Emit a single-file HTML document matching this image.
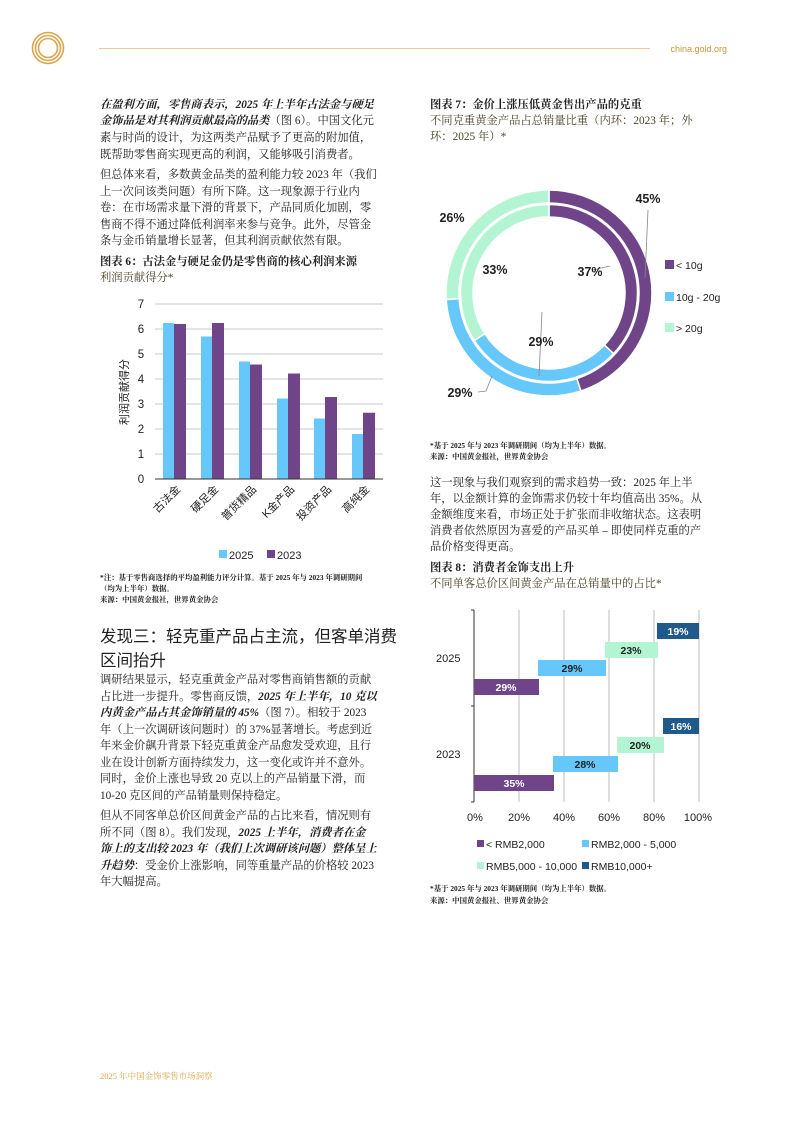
<!DOCTYPE html>
<html><head><meta charset="utf-8"><style>
body{margin:0;background:#fff}
#p{position:relative;width:794px;height:1123px;overflow:hidden;font-family:"Liberation Serif","Noto Serif CJK SC",serif;color:#222}
.l{position:absolute;white-space:nowrap;font-size:11.3px;line-height:16px}
.b{font-weight:bold}
.i{font-style:italic;font-weight:bold}
.g{color:#4a4328}
.h{font-family:"Liberation Sans","Noto Sans CJK SC",sans-serif;font-size:16.5px;line-height:22px}
.f{font-size:7.4px;line-height:10.5px}
svg text{font-family:"Liberation Sans","Noto Sans CJK SC",sans-serif}
</style></head><body><div id="p">
<svg width="794" height="1123" style="position:absolute;left:0;top:0">
<g fill="none" stroke="#dba64a" stroke-width="1.6"><circle cx="48" cy="48" r="15.5"/><circle cx="48" cy="48" r="12.5"/><circle cx="48" cy="48" r="9.5"/></g>
<line x1="99" y1="48.5" x2="650" y2="48.5" stroke="#ecca8e" stroke-width="1"/>
<text x="727" y="52" font-size="9" fill="#c9953a" text-anchor="end">china.gold.org</text>
<text x="100" y="1079" font-size="8.5" fill="#d9a54a" style="font-family:'Liberation Serif','Noto Serif CJK SC',serif">2025 年中国金饰零售市场洞察</text>

<g stroke="#c8c8c8" stroke-width="1">
<line x1="155" x2="383" y1="304" y2="304"/><line x1="155" x2="383" y1="329" y2="329"/><line x1="155" x2="383" y1="354" y2="354"/><line x1="155" x2="383" y1="379" y2="379"/><line x1="155" x2="383" y1="404" y2="404"/><line x1="155" x2="383" y1="429" y2="429"/><line x1="155" x2="383" y1="454" y2="454"/>
</g>
<g fill="#66c7fb">
<rect x="163" y="323" width="11" height="156"/><rect x="201" y="336.5" width="11" height="142.5"/><rect x="239" y="361.5" width="11" height="117.5"/><rect x="277" y="398.5" width="11" height="80.5"/><rect x="314" y="418.5" width="11" height="60.5"/><rect x="352" y="434" width="11" height="45"/>
</g>
<g fill="#6f4489">
<rect x="174" y="324" width="12" height="155"/><rect x="212" y="323" width="12" height="156"/><rect x="250" y="364.5" width="12" height="114.5"/><rect x="288" y="373.5" width="12" height="105.5"/><rect x="325" y="397" width="12" height="82"/><rect x="363" y="412.75" width="12" height="66.25"/>
</g>
<line x1="155" x2="383" y1="479" y2="479" stroke="#333" stroke-width="1"/>
<g font-size="11.5" fill="#222" text-anchor="middle">
<text x="141" y="308">7</text><text x="141" y="333">6</text><text x="141" y="358">5</text><text x="141" y="383">4</text><text x="141" y="408">3</text><text x="141" y="433">2</text><text x="141" y="458">1</text><text x="141" y="483">0</text>
</g>
<text transform="translate(128,392) rotate(-90)" font-size="11" text-anchor="middle" fill="#222">利润贡献得分</text>
<g font-size="11" fill="#222" text-anchor="end">
<text transform="translate(181,490) rotate(-45)">古法金</text>
<text transform="translate(219,490) rotate(-45)">硬足金</text>
<text transform="translate(257,490) rotate(-45)">普货精品</text>
<text transform="translate(295,490) rotate(-45)">K金产品</text>
<text transform="translate(332,490) rotate(-45)">投资产品</text>
<text transform="translate(370,490) rotate(-45)">高纯金</text>
</g>
<rect x="219" y="550" width="8" height="8" fill="#66c7fb"/><text x="229" y="559" font-size="11" fill="#222">2025</text>
<rect x="267" y="550" width="8" height="8" fill="#6f4489"/><text x="277" y="559" font-size="11" fill="#222">2023</text>

<g id="donut"></g>
<g stroke="#888" stroke-width="0.8" fill="none">
<polyline points="648,210 645,278"/>
<polyline points="610,266 601,268 593,270"/>
<polyline points="542,312 539,376"/>
<polyline points="492,376 486,391 478,392"/>
</g>
<g font-size="12.5" font-weight="bold" fill="#222" text-anchor="middle">
<text x="648" y="203">45%</text><text x="452" y="222">26%</text><text x="495" y="274">33%</text><text x="590" y="276">37%</text><text x="541" y="346">29%</text><text x="460" y="397">29%</text>
</g>
<rect x="665" y="260" width="9" height="9" fill="#6f4489"/><text x="676" y="269" font-size="10.5" fill="#222">&lt; 10g</text>
<rect x="665" y="292" width="9" height="9" fill="#66c7fb"/><text x="676" y="301" font-size="10.5" fill="#222">10g - 20g</text>
<rect x="665" y="323" width="9" height="9" fill="#b3f5d3"/><text x="676" y="332" font-size="10.5" fill="#222">&gt; 20g</text>

<g stroke="#bdbdbd" stroke-width="1">
<line x1="519" x2="519" y1="610" y2="802"/><line x1="564" x2="564" y1="610" y2="802"/><line x1="609" x2="609" y1="610" y2="802"/><line x1="654" x2="654" y1="610" y2="802"/><line x1="699" x2="699" y1="610" y2="802"/>
</g>
<g stroke="#333" stroke-width="1"><line x1="474" x2="474" y1="610" y2="802"/><line x1="471" x2="474" y1="610" y2="610"/><line x1="471" x2="474" y1="706" y2="706"/><line x1="471" x2="474" y1="802" y2="802"/></g>
<rect x="474" y="679" width="65" height="16" fill="#6f4489"/>
<rect x="538" y="660" width="68" height="16" fill="#66c7fb"/>
<rect x="605" y="642" width="53" height="16" fill="#b3f5d3"/>
<rect x="657" y="623" width="42" height="16" fill="#1f5a8a"/>
<rect x="474" y="775" width="80" height="16" fill="#6f4489"/>
<rect x="553" y="756" width="65" height="16" fill="#66c7fb"/>
<rect x="617" y="737" width="47" height="16" fill="#b3f5d3"/>
<rect x="663" y="718" width="36" height="16" fill="#1f5a8a"/>
<g font-size="10.5" font-weight="bold" text-anchor="middle">
<text x="506" y="691" fill="#fff">29%</text><text x="572" y="672" fill="#222">29%</text><text x="631" y="654" fill="#222">23%</text><text x="678" y="635" fill="#fff">19%</text>
<text x="514" y="787" fill="#fff">35%</text><text x="585" y="768" fill="#222">28%</text><text x="640" y="749" fill="#222">20%</text><text x="681" y="730" fill="#fff">16%</text>
</g>
<g font-size="11" fill="#222">
<text x="436" y="662">2025</text><text x="436" y="758">2023</text>
</g>
<g font-size="11" fill="#222" text-anchor="middle">
<text x="475" y="821">0%</text><text x="519" y="821">20%</text><text x="564" y="821">40%</text><text x="609" y="821">60%</text><text x="654" y="821">80%</text><text x="698" y="821">100%</text>
</g>
<g font-size="10.5" fill="#222">
<rect x="477" y="840" width="7" height="7" fill="#6f4489"/><text x="486" y="848">&lt; RMB2,000</text>
<rect x="582" y="840" width="7" height="7" fill="#66c7fb"/><text x="591" y="848">RMB2,000 - 5,000</text>
<rect x="477" y="862" width="7" height="7" fill="#b3f5d3"/><text x="486" y="870">RMB5,000 - 10,000</text>
<rect x="582" y="862" width="7" height="7" fill="#1f5a8a"/><text x="591" y="870">RMB10,000+</text>
</g>
</svg>

<div class="l i" style="left:100px;top:97px">在盈利方面，零售商表示，2025 年上半年古法金与硬足</div>
<div class="l" style="left:100px;top:113px"><span class="i">金饰品是对其利润贡献最高的品类</span>（图 6）。中国文化元</div>
<div class="l" style="left:100px;top:130px">素与时尚的设计，为这两类产品赋予了更高的附加值，</div>
<div class="l" style="left:100px;top:147px">既帮助零售商实现更高的利润，又能够吸引消费者。</div>
<div class="l" style="left:100px;top:167px">但总体来看，多数黄金品类的盈利能力较 2023 年（我们</div>
<div class="l" style="left:100px;top:184px">上一次问该类问题）有所下降。这一现象源于行业内</div>
<div class="l" style="left:100px;top:200px">卷：在市场需求量下滑的背景下，产品同质化加剧，零</div>
<div class="l" style="left:100px;top:217px">售商不得不通过降低利润率来参与竞争。此外，尽管金</div>
<div class="l" style="left:100px;top:233px">条与金币销量增长显著，但其利润贡献依然有限。</div>
<div class="l b" style="left:100px;top:254px">图表 6：古法金与硬足金仍是零售商的核心利润来源</div>
<div class="l g" style="left:100px;top:270px">利润贡献得分*</div>
<div class="l f" style="left:100px;top:573px;font-weight:bold">*注：基于零售商选择的平均盈利能力评分计算。基于 2025 年与 2023 年调研期间</div>
<div class="l f" style="left:100px;top:584px;font-weight:bold">（均为上半年）数据。</div>
<div class="l f" style="left:100px;top:595px;font-weight:bold">来源：中国黄金报社，世界黄金协会</div>

<div class="l h" style="left:100px;top:626px">发现三：轻克重产品占主流，但客单消费</div>
<div class="l h" style="left:100px;top:650px">区间抬升</div>
<div class="l" style="left:100px;top:672px">调研结果显示，轻克重黄金产品对零售商销售额的贡献</div>
<div class="l" style="left:100px;top:689px">占比进一步提升。零售商反馈，<span class="i">2025 年上半年，10 克以</span></div>
<div class="l" style="left:100px;top:705px"><span class="i">内黄金产品占其金饰销量的 45%</span>（图 7）。相较于 2023</div>
<div class="l" style="left:100px;top:722px">年（上一次调研该问题时）的 37%显著增长。考虑到近</div>
<div class="l" style="left:100px;top:738px">年来金价飙升背景下轻克重黄金产品愈发受欢迎，且行</div>
<div class="l" style="left:100px;top:755px">业在设计创新方面持续发力，这一变化或许并不意外。</div>
<div class="l" style="left:100px;top:771px">同时，金价上涨也导致 20 克以上的产品销量下滑，而</div>
<div class="l" style="left:100px;top:788px">10-20 克区间的产品销量则保持稳定。</div>
<div class="l" style="left:100px;top:808px">但从不同客单总价区间黄金产品的占比来看，情况则有</div>
<div class="l" style="left:100px;top:825px">所不同（图 8）。我们发现，<span class="i">2025 上半年，消费者在金</span></div>
<div class="l" style="left:100px;top:841px"><span class="i">饰上的支出较 2023 年（我们上次调研该问题）整体呈上</span></div>
<div class="l" style="left:100px;top:858px"><span class="i">升趋势</span>：受金价上涨影响，同等重量产品的价格较 2023</div>
<div class="l" style="left:100px;top:874px">年大幅提高。</div>

<div class="l b" style="left:430px;top:97px">图表 7：金价上涨压低黄金售出产品的克重</div>
<div class="l g" style="left:430px;top:113px">不同克重黄金产品占总销量比重（内环：2023 年；外</div>
<div class="l g" style="left:430px;top:129px">环：2025 年）*</div>
<div class="l f" style="left:430px;top:441px;font-weight:bold">*基于 2025 年与 2023 年调研期间（均为上半年）数据。</div>
<div class="l f" style="left:430px;top:452px;font-weight:bold">来源：中国黄金报社，世界黄金协会</div>
<div class="l" style="left:430px;top:475px">这一现象与我们观察到的需求趋势一致：2025 年上半</div>
<div class="l" style="left:430px;top:491px">年，以金额计算的金饰需求仍较十年均值高出 35%。从</div>
<div class="l" style="left:430px;top:507px">金额维度来看，市场正处于扩张而非收缩状态。这表明</div>
<div class="l" style="left:430px;top:523px">消费者依然原因为喜爱的产品买单 – 即使同样克重的产</div>
<div class="l" style="left:430px;top:539px">品价格变得更高。</div>
<div class="l b" style="left:430px;top:560px">图表 8：消费者金饰支出上升</div>
<div class="l g" style="left:430px;top:576px">不同单客总价区间黄金产品在总销量中的占比*</div>
<div class="l f" style="left:430px;top:884px;font-weight:bold">*基于 2025 年与 2023 年调研期间（均为上半年）数据。</div>
<div class="l f" style="left:430px;top:896px;font-weight:bold">来源：中国黄金报社、世界黄金协会</div>
</div>
<script>
(function(){
var cx=549,cy=293,g=document.getElementById('donut'),ns='http://www.w3.org/2000/svg';
function ring(r0,r1,vals,cols){var a=0;vals.forEach(function(v,i){var a0=a*2*Math.PI/100-Math.PI/2,a1=(a+v)*2*Math.PI/100-Math.PI/2;a+=v;
var l=(v>50)?1:0;var p=document.createElementNS(ns,'path');
function pt(r,t){return (cx+r*Math.cos(t)).toFixed(2)+','+(cy+r*Math.sin(t)).toFixed(2)}
p.setAttribute('d','M'+pt(r1,a0)+'A'+r1+','+r1+' 0 '+l+' 1 '+pt(r1,a1)+'L'+pt(r0,a1)+'A'+r0+','+r0+' 0 '+l+' 0 '+pt(r0,a0)+'Z');
p.setAttribute('fill',cols[i]);p.setAttribute('stroke','#fff');p.setAttribute('stroke-width','1.5');g.appendChild(p);});}
var c=['#6f4489','#66c7fb','#b3f5d3'];
ring(90,103,[45,29,26],c);ring(76,88.5,[37,29,34],c);
})();
</script>
</body></html>
